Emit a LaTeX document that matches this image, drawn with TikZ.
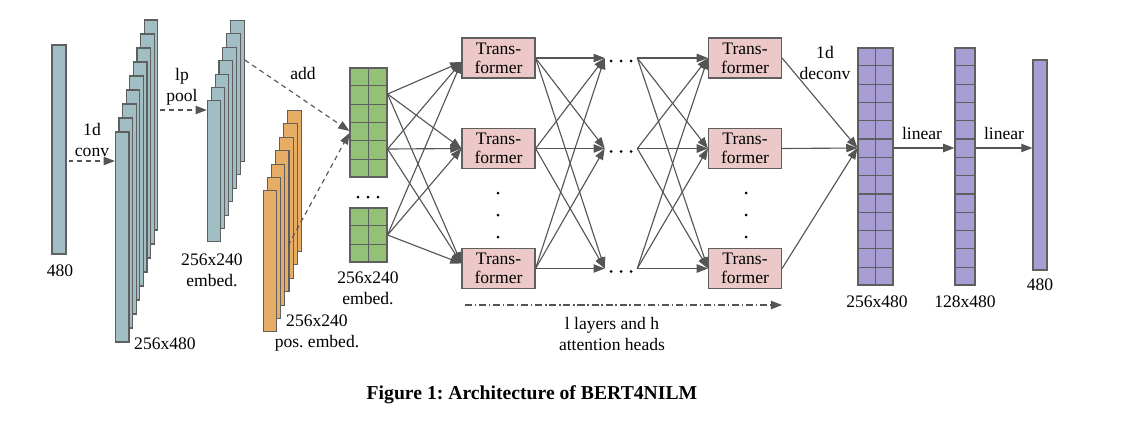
\documentclass[tikz,border=0pt]{standalone}
\usepackage{fontspec}
\setmainfont{Liberation Serif}
\usepackage{tikz}
\usetikzlibrary{calc,arrows.meta,positioning}

\definecolor{convcol}{RGB}{160,190,196}
\definecolor{poscol}{RGB}{232,173,100}
\definecolor{embcol}{RGB}{147,193,120}
\definecolor{trfcol}{RGB}{236,200,200}
\definecolor{outcol}{RGB}{168,157,210}
\definecolor{edgecol}{RGB}{95,95,95}
\definecolor{linecol}{RGB}{85,85,85}

\begin{document}
\frenchspacing
\begin{tikzpicture}[x=0.25mm,y=-0.25mm,font=\fontsize{12.5}{15}\selectfont,
	bar/.style={draw=edgecol,line width=0.8pt,inner sep=0pt,minimum width=3.4mm},
	trf/.style={draw=edgecol,line width=0.8pt,fill=trfcol,minimum width=18.25mm,minimum height=10mm,inner sep=0pt,align=center,font=\fontsize{12.5}{13.5}\selectfont},
	con/.style={draw=linecol,line width=0.8pt,-{Triangle[length=2.8mm,width=2.1mm]}},
	dcon/.style={con,dash pattern=on 3.5pt off 2.8pt},
	lbl/.style={align=center,inner sep=0pt},
	hdots/.style={inner sep=0pt,minimum width=8mm}]
		\useasboundingbox (0,0) rectangle (1123,438);
		% input and 1d conv
		\node[bar,fill=convcol,minimum width=3.5mm,minimum height=52.25mm] (inbar) at (59,149.5) {};
		\foreach \i in {0,...,8}
			\node[bar,fill=convcol,minimum height=52.5mm] (conv\i) at ({151-3.6*\i},{125+14*\i}) {};
		\foreach \i in {0,...,6}
			\node[bar,fill=convcol,minimum height=35.25mm] (emb\i) at ({237.5-3.9*\i},{91+13.4*\i}) {};
		\foreach \i in {0,...,6}
			\node[bar,fill=poscol,minimum height=35.25mm] (pos\i) at ({294.5-4.1*\i},{181+13.4*\i}) {};
		\coordinate (convin) at ($(inbar.east)+(2,11.5)$);
		\coordinate (poolin) at ($(conv0.east)+(2,-15)$);
		\draw[dcon] (convin) -- (convin -| conv8.west);
		\draw[dcon] (poolin) -- (poolin -| emb6.west);
		\node[lbl] at (60,271) {480};
		\node[lbl] at (92,140) {1d\\conv};
		\node[lbl] at (165,344) {256x480};
		\node[lbl] at (182,87) {lp\\pool};
		\node[lbl] at (212,270) {256x240\\embed.};
		\node[lbl] at (317,333) {256x240\\pos. embed.};
		% embedding grids
		\node[draw=edgecol,line width=0.8pt,fill=embcol,inner sep=0pt,minimum width=9.25mm,minimum height=27.25mm] (gt) at (368.5,122.5) {};
		\node[draw=edgecol,line width=0.8pt,fill=embcol,inner sep=0pt,minimum width=9.25mm,minimum height=13.5mm] (gb) at (368.5,235) {};
		\draw[edgecol,line width=0.8pt] (gt.north) -- (gt.south) (gb.north) -- (gb.south);
		\foreach \k in {1,...,5}
			\draw[edgecol,line width=0.8pt] ($(gt.north west)!\k/6!(gt.south west)$) -- ($(gt.north east)!\k/6!(gt.south east)$);
		\foreach \k in {1,2}
			\draw[edgecol,line width=0.8pt] ($(gb.north west)!\k/3!(gb.south west)$) -- ($(gb.north east)!\k/3!(gb.south east)$);
		\foreach \xx in {358,368,378}
			\fill[black] (\xx,197) circle (1.5);
		\node[lbl] at (368,288) {256x240\\embed.};
		\draw[dcon] ($(emb0.east)+(0,-31)$) -- ($(gt.west)+(0,8.5)$);
		\draw[dcon] ($(pos0.south west)+(1,-6.5)$) -- ($(gt.west)+(0,10.5)$);
		\node[lbl] at (303,73) {add};
		% transformer layers
		\node[trf] (t11) at (498.5,58) {Trans-\\former};
		\node[trf] (t12) at (498.5,148.5) {Trans-\\former};
		\node[trf] (t13) at (498.5,268.5) {Trans-\\former};
		\node[trf] (t21) at (745,58) {Trans-\\former};
		\node[trf] (t22) at (745,148.5) {Trans-\\former};
		\node[trf] (t23) at (745,268.5) {Trans-\\former};
		\node[hdots] (d1) at (621,58) {};
		\node[hdots] (d2) at (621,148.5) {};
		\node[hdots] (d3) at (621,268.5) {};
		\foreach \d in {d1,d2,d3}
			\foreach \xx in {-10,0,10}
				\fill[black] ($(\d)+(\xx,3)$) circle (1.5);
		\foreach \yy in {193,215,237} {
			\fill[black] (498,\yy) circle (1.5);
			\fill[black] (746,\yy) circle (1.5);
		}
		\coordinate (gs1) at ($(gt.east)+(0,-28.5)$);
		\coordinate (gs2) at ($(gt.east)+(0,26.5)$);
		\coordinate (gs3) at (gb.east);
		\coordinate (in1) at ($(t11.west)+(0,4)$);
		\coordinate (in2) at (t12.west);
		\coordinate (in3) at ($(t13.west)+(0,-5)$);
		\foreach \s in {gs1,gs2,gs3}
			\foreach \t in {in1,in2,in3}
				\draw[con] (\s) -- (\t);
		\foreach \a in {1,2,3}
			\foreach \b in {1,2,3} {
				\draw[con] (t1\a.east) -- (d\b.west);
				\draw[con] (d\a.east) -- (t2\b.west);
			}
		\coordinate (la) at (465,305);
		\draw[con,dash pattern=on 5pt off 2pt on 1pt off 2pt] (la) -- (la -| t23.east);
		\node[lbl] at (612,334) {l layers and h\\attention heads};
		% output layers
		\node[draw=edgecol,line width=0.8pt,fill=outcol,inner sep=0pt,minimum width=8.75mm,minimum height=59.25mm] (p1) at (875.5,166.5) {};
		\node[draw=edgecol,line width=0.8pt,fill=outcol,inner sep=0pt,minimum width=5mm,minimum height=59.25mm] (p2) at (965,166.5) {};
		\node[bar,fill=outcol,minimum width=3.5mm,minimum height=52.5mm] (p3) at (1040,165) {};
		\draw[edgecol,line width=0.8pt] (p1.north) -- (p1.south);
		\foreach \k in {1,...,12} {
			\draw[edgecol,line width=0.8pt] ($(p1.north west)!\k/13!(p1.south west)$) -- ($(p1.north east)!\k/13!(p1.south east)$);
			\draw[edgecol,line width=0.8pt] ($(p2.north west)!\k/13!(p2.south west)$) -- ($(p2.north east)!\k/13!(p2.south east)$);
		}
		\coordinate (pin) at ($(p1.west)+(0,-18.5)$);
		\foreach \a in {1,2,3}
			\draw[con] (t2\a.east) -- (pin);
		\draw[con] (pin -| p1.east) -- (pin -| p2.west);
		\draw[con] (pin -| p2.east) -- (pin -| p3.west);
		\node[lbl] at (825,63) {1d\\deconv};
		\node[lbl] at (922,133) {linear};
		\node[lbl] at (1004,133) {linear};
		\node[lbl] at (877,302) {256x480};
		\node[lbl] at (965,302) {128x480};
		\node[lbl] at (1040,285) {480};
		\node[lbl,font=\fontsize{14}{16}\selectfont\bfseries] at (532,395) {Figure 1: Architecture of BERT4NILM};
	\end{tikzpicture}
\end{document}
